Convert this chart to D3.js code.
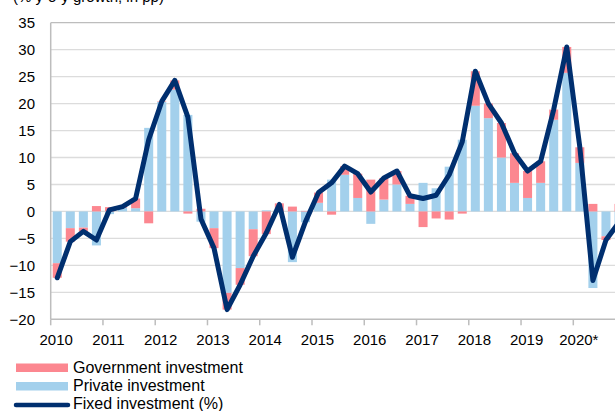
<!DOCTYPE html>
<html>
<head>
<meta charset="utf-8">
<script src="https://cdn.jsdelivr.net/npm/d3@7"></script>
<style>
  html, body { margin: 0; padding: 0; background: #fff; }
  svg { display: block; font-family: "Liberation Sans", Arial, sans-serif; }
</style>
</head>
<body>
<svg id="chart" width="615" height="411"></svg>
<script>
// Quarterly contributions to fixed investment growth, 2010Q1 – 2020Q4
const years = ["2010", "2011", "2012", "2013", "2014", "2015", "2016", "2017", "2018", "2019", "2020*"];
const quarters = years.flatMap(y => [1, 2, 3, 4].map(q => y + "Q" + q));

const privateInvestment = [
  -9.6, -3.1, -3.0, -6.3,
  -0.5, 0.7, 0.6, 15.5,
  20.3, 22.6, 17.9, -1.9,
  -3.1, -15.1, -10.5, -3.3,
  0.2, -0.2, -9.4, -2.0,
  1.6, 5.9, 6.8, 2.5,
  -2.3, 2.2, 5.0, 1.4,
  5.3, 4.3, 8.3, 13.3,
  19.6, 17.3, 10.0, 5.3,
  2.5, 5.3, 17.0, 25.7,
  9.0, -14.2, -4.6, -3.4
];
const governmentInvestment = [
  -2.7, -2.5, -0.7, 1.0,
  0.8, 0.2, 1.8, -2.2,
  0.1, 1.7, -0.4, 0.5,
  -3.7, -3.1, -3.1, -5.0,
  -4.2, 1.5, 0.9, 0.1,
  1.9, -0.6, 1.6, 4.5,
  5.9, 4.0, 2.5, 1.5,
  -2.9, -1.3, -1.5, -0.4,
  6.4, 2.7, 6.4, 5.5,
  5.0, 4.0, 1.9, 4.8,
  2.9, 1.4, -0.7, 1.4
];
const fixedInvestment = [
  -12.3, -5.6, -3.7, -5.3,
  0.3, 0.9, 2.4, 13.3,
  20.4, 24.3, 17.5, -1.4,
  -6.8, -18.2, -13.6, -8.3,
  -4.0, 1.3, -8.5, -1.9,
  3.5, 5.3, 8.4, 7.0,
  3.6, 6.2, 7.5, 2.9,
  2.4, 3.0, 6.8, 12.9,
  26.0, 20.0, 16.4, 10.8,
  7.5, 9.3, 18.9, 30.5,
  11.9, -12.8, -5.3, -2.0
];
const yTicks = [-20, -15, -10, -5, 0, 5, 10, 15, 20, 25, 30, 35];

const colors = { priv: "#A3D0EC", gov: "#FC8790", line: "#002F6F", grid: "#DCDCDC", axis: "#BDBDBD" };

const svg = d3.select("#chart");
const plotLeft = 50.7, plotTop = 22.7, plotBottom = 319.3;
const plotRight = plotLeft + quarters.length * 13.065;

const x = d3.scaleBand().domain(quarters).range([plotLeft, plotRight]).paddingInner(0.31).paddingOuter(0.155);
const y = d3.scaleLinear().domain([-20, 35]).range([plotBottom, plotTop]);

// Title (sits partly above the visible area)
svg.append("text").attr("x", 13).attr("y", 1.5)
  .attr("font-size", 15).attr("fill", "#000")
  .text("(% y-o-y growth, in pp)");

// Horizontal gridlines
svg.append("g").selectAll("line")
  .data(yTicks.filter(t => t > -20 && t < 35))
  .join("line")
  .attr("x1", plotLeft).attr("x2", plotRight)
  .attr("y1", d => y(d)).attr("y2", d => y(d))
  .attr("stroke", colors.grid).attr("stroke-width", 1.3);

// Top border
svg.append("line").attr("x1", plotLeft).attr("x2", plotRight)
  .attr("y1", y(35)).attr("y2", y(35))
  .attr("stroke", colors.axis).attr("stroke-width", 1.3);

// Stacked bars (private nearest zero, then government)
const rows = quarters.map((q, i) => ({ q, priv: privateInvestment[i], gov: governmentInvestment[i] }));
const stack = d3.stack().keys(["priv", "gov"]).offset(d3.stackOffsetDiverging);
const series = stack(rows);
svg.append("g").selectAll("g")
  .data(series)
  .join("g")
  .attr("fill", d => colors[d.key])
  .selectAll("rect")
  .data(d => d)
  .join("rect")
  .attr("x", d => x(d.data.q))
  .attr("width", x.bandwidth())
  .attr("y", d => y(Math.max(d[0], d[1])))
  .attr("height", d => Math.abs(y(d[0]) - y(d[1])));

// Left axis line
svg.append("line").attr("x1", plotLeft).attr("x2", plotLeft)
  .attr("y1", y(35)).attr("y2", y(-20))
  .attr("stroke", colors.axis).attr("stroke-width", 1.5);

// Y tick labels
const yAxis = d3.axisLeft(y).tickValues(yTicks).tickSize(0).tickPadding(15.7);
const gy = svg.append("g").attr("transform", `translate(${plotLeft},0)`).call(yAxis);
gy.select(".domain").remove();
gy.selectAll("text").attr("font-size", 15).attr("fill", "#000")
  .attr("font-family", "Liberation Sans, Arial, sans-serif");

// Bottom axis with year-boundary ticks
svg.append("line").attr("x1", plotLeft).attr("x2", plotRight)
  .attr("y1", y(-20)).attr("y2", y(-20))
  .attr("stroke", colors.axis).attr("stroke-width", 1.5);
const yearStarts = quarters.filter((q, i) => i % 4 === 0);
svg.append("g").selectAll("line")
  .data(yearStarts)
  .join("line")
  .attr("x1", d => x(d) - x.step() * x.paddingInner() / 2)
  .attr("x2", d => x(d) - x.step() * x.paddingInner() / 2)
  .attr("y1", y(-20)).attr("y2", y(-20) + 6)
  .attr("stroke", colors.axis).attr("stroke-width", 1.5);
svg.append("g").selectAll("text")
  .data(years)
  .join("text")
  .attr("x", (d, i) => x(yearStarts[i]) + x.bandwidth() / 2 - 1)
  .attr("y", 345)
  .attr("text-anchor", "middle")
  .attr("font-size", 15).attr("fill", "#000")
  .text(d => d);

// Fixed investment line
const line = d3.line()
  .x((d, i) => x(quarters[i]) + x.bandwidth() / 2)
  .y(d => y(d));
svg.append("path")
  .datum(fixedInvestment)
  .attr("d", line)
  .attr("fill", "none")
  .attr("stroke", colors.line)
  .attr("stroke-width", 5)
  .attr("stroke-linejoin", "round")
  .attr("stroke-linecap", "round");

// Legend
const legend = svg.append("g").attr("font-size", 16).attr("fill", "#000");
legend.append("rect").attr("x", 16).attr("y", 363.5).attr("width", 52).attr("height", 8.5).attr("fill", colors.gov);
legend.append("text").attr("x", 73).attr("y", 373).text("Government investment");
legend.append("rect").attr("x", 16).attr("y", 382).attr("width", 52).attr("height", 8.5).attr("fill", colors.priv);
legend.append("text").attr("x", 73).attr("y", 390.5).text("Private investment");
legend.append("line").attr("x1", 16).attr("x2", 68).attr("y1", 405).attr("y2", 405)
  .attr("stroke", colors.line).attr("stroke-width", 4.5).attr("stroke-linecap", "round");
legend.append("text").attr("x", 73).attr("y", 408.5).text("Fixed investment (%)");
</script>
</body>
</html>
